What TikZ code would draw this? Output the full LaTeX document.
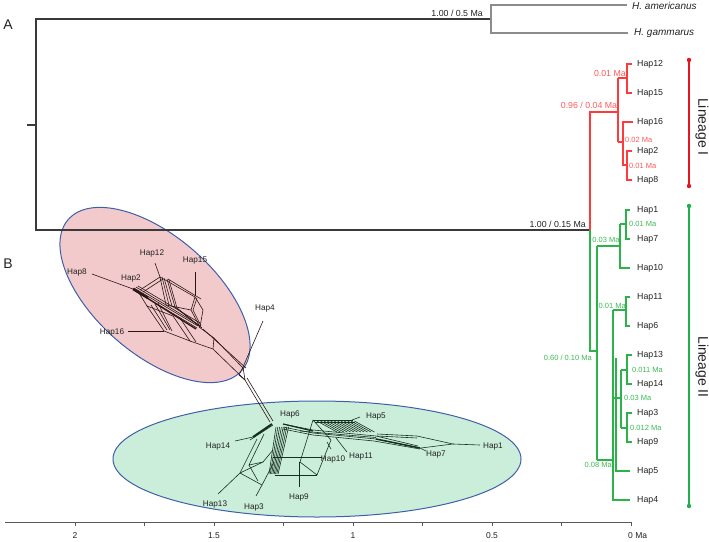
\documentclass[tikz,border=0pt]{standalone}
\usepackage{fontspec}
\setmainfont{Liberation Sans}
\definecolor{treeblack}{HTML}{3A3A3A}
\definecolor{treegray}{HTML}{8C8C8C}
\definecolor{lred}{HTML}{FF3A3A}
\definecolor{lredtxt}{HTML}{FF5A5A}
\definecolor{lgreen}{HTML}{2BB34A}
\definecolor{lgreentxt}{HTML}{3DBA57}
\definecolor{barred}{HTML}{E8141E}
\definecolor{bargreen}{HTML}{1FAF4B}
\definecolor{pinkfill}{HTML}{F2CACB}
\definecolor{mintfill}{HTML}{CBEEDA}
\definecolor{ellblue}{HTML}{3F5FA8}
\definecolor{netred}{HTML}{2B1616}
\definecolor{netgreen}{HTML}{16301E}
\definecolor{txt}{HTML}{222222}
\begin{document}
\begin{tikzpicture}[x=1pt,y=-1pt,
  tb/.style={draw=treeblack,line width=1.1pt},
  tg/.style={draw=treegray,line width=1.1pt},
  rb/.style={draw=lred,line width=1.1pt},
  gb/.style={draw=lgreen,line width=1.1pt},
  tip/.style={font=\fontsize{8.8}{10}\selectfont,anchor=west,inner sep=0pt,text=txt},
  sp/.style={font=\fontsize{10}{12}\selectfont\itshape,anchor=west,inner sep=0pt,text=txt},
  bigl/.style={font=\fontsize{8.8}{10}\selectfont,inner sep=0pt},
  smll/.style={font=\fontsize{7.5}{9}\selectfont,inner sep=0pt},
  hl/.style={font=\fontsize{8.2}{10}\selectfont,inner sep=0pt,text=txt},
  net/.style={line width=0.6pt},
  axl/.style={font=\fontsize{8.5}{10}\selectfont,inner sep=0pt,text=txt}]
\useasboundingbox (0,0) rectangle (709,541);

% ellipses
\draw[fill=pinkfill,draw=ellblue,line width=1pt,rotate around={-41:(155,295)}] (155,295) ellipse [x radius=115, y radius=59];
\draw[fill=mintfill,draw=ellblue,line width=1pt] (317,459) ellipse [x radius=204, y radius=58];

% panel letters
\node[font=\fontsize{14}{16}\selectfont,text=txt] (A) at (8,25) {A};
\node[font=\fontsize{14}{16}\selectfont,text=txt] (B) at (8,264) {B};

% ---- tree: root and outgroup
\draw[tb] (27,125) -- (36,125);
\draw[tb] (491,19) -- (36,19) -- (36,230) -- (590,230);
\draw[tg] (627,5) -- (491,5) -- (491,33) -- (628,33);
\node[bigl,anchor=east,text=txt] (l1) at (483,13) {1.00 / 0.5 Ma};
\node[sp] (ham) at (632,6) {H. americanus};
\node[sp] (hga) at (634,33) {H. gammarus};
\node[bigl,anchor=east,text=txt] (l2) at (586,224) {1.00 / 0.15 Ma};

% ---- lineage I (red)
\draw[rb] (590,230) -- (590,112) -- (618,112);
\draw[rb] (618,78) -- (618,142);
\draw[rb] (618,78) -- (627,78);
\draw[rb] (632,64) -- (627,64) -- (627,93) -- (632,93);
\draw[rb] (618,142) -- (623,142);
\draw[rb] (633,122) -- (623,122) -- (623,165) -- (627,165);
\draw[rb] (632,151) -- (627,151) -- (627,180) -- (632,180);
\node[bigl,text=lredtxt] (r1) at (589,105) {0.96 / 0.04 Ma};
\node[bigl,anchor=east,text=lredtxt] (r2) at (626,73) {0.01 Ma};
\node[smll,anchor=west,text=lredtxt] (r3) at (625,140) {0.02 Ma};
\node[smll,anchor=west,text=lredtxt] (r4) at (629,166) {0.01 Ma};
\node[tip] (h12) at (637,64) {Hap12};
\node[tip] (h15) at (637,93) {Hap15};
\node[tip] (h16) at (637,122) {Hap16};
\node[tip] (h2) at (637,151) {Hap2};
\node[tip] (h8) at (637,180) {Hap8};

% ---- lineage II (green)
\draw[gb] (590,230) -- (590,351) -- (597,351);
\draw[gb] (597,246) -- (597,460);
\draw[gb] (597,246) -- (620,246);
\draw[gb] (620,224) -- (620,268) -- (630,268);
\draw[gb] (620,224) -- (626,224);
\draw[gb] (630,210) -- (626,210) -- (626,239) -- (630,239);
\draw[gb] (597,460) -- (613,460);
\draw[gb] (613,310) -- (613,500) -- (630,500);
\draw[gb] (613,310) -- (626,310);
\draw[gb] (630,297) -- (626,297) -- (626,326) -- (630,326);
\draw[gb] (616,358) -- (616,471) -- (630,471);
\draw[gb] (613,398) -- (621,398);
\draw[gb] (621,370) -- (621,428);
\draw[gb] (621,370) -- (627,370);
\draw[gb] (632,355) -- (627,355) -- (627,384) -- (632,384);
\draw[gb] (621,428) -- (627,428);
\draw[gb] (632,413) -- (627,413) -- (627,442) -- (632,442);
\node[smll,text=lgreentxt] (g1) at (606,240) {0.03 Ma};
\node[smll,anchor=west,text=lgreentxt] (g2) at (629,224) {0.01 Ma};
\node[smll,anchor=east,text=lgreentxt] (g3) at (626,306) {0.01 Ma};
\node[smll,anchor=east,text=lgreentxt] (g4) at (592,358) {0.60 / 0.10 Ma};
\node[smll,anchor=west,text=lgreentxt] (g5) at (632,370) {0.011 Ma};
\node[smll,anchor=west,text=lgreentxt] (g6) at (624,398) {0.03 Ma};
\node[smll,anchor=west,text=lgreentxt] (g7) at (630,428) {0.012 Ma};
\node[smll,anchor=east,text=lgreentxt] (g8) at (612,465) {0.08 Ma};
\node[tip] (t1) at (637,210) {Hap1};
\node[tip] (t7) at (637,239) {Hap7};
\node[tip] (t10) at (637,268) {Hap10};
\node[tip] (t11) at (637,297) {Hap11};
\node[tip] (t6) at (637,326) {Hap6};
\node[tip] (t13) at (637,355) {Hap13};
\node[tip] (t14) at (637,384) {Hap14};
\node[tip] (t3) at (637,413) {Hap3};
\node[tip] (t9) at (637,442) {Hap9};
\node[tip] (t5) at (637,471) {Hap5};
\node[tip] (t4) at (637,500) {Hap4};

% lineage bars
\draw[barred,line width=1.3pt] (689,60) -- (689,186);
\fill[barred] (689,60) circle (2.2) (689,186) circle (2.2);
\draw[bargreen,line width=1.3pt] (689,206) -- (689,506);
\fill[bargreen] (689,206) circle (2.2) (689,506) circle (2.2);
\node[rotate=-90,font=\fontsize{14}{16}\selectfont,text=txt] (LI) at (702,127) {Lineage I};
\node[rotate=-90,font=\fontsize{14}{16}\selectfont,text=txt] (LII) at (702,367) {Lineage II};

% axis
\draw[draw=black!65,line width=0.7pt] (5,522) -- (631,522);
\foreach \k in {0,...,8} \draw[draw=black!65,line width=0.7pt] (631-69.5*\k,522) -- (631-69.5*\k,526);
\node[axl] (a2) at (75,536) {2};
\node[axl] (a15) at (214,536) {1.5};
\node[axl] (a1) at (353,536) {1};
\node[axl] (a05) at (492,536) {0.5};
\node[axl,anchor=west] (a0) at (628,536) {0 Ma};

% ---- network, red cluster
\begin{scope}[net,draw=netred]
\draw[line width=2.4pt] (133,289) -- (148,298);
\draw (134,288) -- (198,326);
\draw (134,290) -- (197,328);
\draw[line width=1.3pt] (136,291) -- (196,329);
\draw (136,287) -- (199,325);
\draw (138,286) -- (200,323);
\draw (140,290) -- (160,277);
\draw (143,292) -- (163,279);
\draw (160,277) -- (166,305);
\draw (162,277) -- (169,305);
\draw (164,278) -- (172,306);
\draw (167,279) -- (175,307);
\draw (169,280) -- (177,308);
\draw (160,277) -- (195,297);
\draw (168,279) -- (201,299);
\draw (195,297) -- (191,310) -- (200,327) -- (203,310) -- cycle;
\draw (197,298) -- (193,310) -- (201,326);
\draw (166,305) -- (191,310);
\draw (175,307) -- (200,327);
\draw (177,308) -- (202,328);
\draw (139,293) -- (147,306);
\draw (147,306) -- (164,331) -- (190,341) -- (173,316) -- cycle;
\draw (151,305) -- (167,330);
\draw (155,304) -- (170,330);
\draw (158,303) -- (172,331);
\draw (180,318) -- (196,342);
\draw (199,327) -- (214,338) -- (243,368);
\draw (190,341) -- (213,349) -- (245,380);
\draw (203,329) -- (246,368);
\draw (214,338) -- (213,349);
\draw (243,367) -- (239,375) -- (245,380) -- cycle;
\draw (245,380) -- (270,422);
\draw (247,378) -- (273,421);
\draw (263,321) -- (243,367);
\draw (92,274) -- (133,289);
\draw (155,263) -- (160,277);
\draw (195,272) -- (195,296);
\draw (128,331) -- (164,331);
\end{scope}
\node[hl] (n8) at (77,272) {Hap8};
\node[hl] (n2) at (131,278) {Hap2};
\node[hl] (n12) at (152,253) {Hap12};
\node[hl] (n15) at (195,261) {Hap15};
\node[hl] (n16) at (112,332) {Hap16};
\node[hl] (n4) at (265,309) {Hap4};

% ---- network, green cluster
\begin{scope}[net,draw=netgreen]
\draw[line width=2pt] (253,437) -- (272,424);
\draw (250,440) -- (273,425);
\draw (235,441) -- (253,437);
\foreach \i in {0,...,7} \draw (276+1.8*\i,427) -- (269+1.3*\i,474);
\draw (257,439) -- (240,473) -- (262,485) -- (274,462);
\draw (264,434) -- (249,465) -- (263,462) -- (273,450);
\draw (240,473) -- (263,462);
\draw (249,465) -- (258,481);
\draw (273,457) -- (322,457);
\draw (275,475) -- (317,475);
\draw (313,420) -- (300,462) -- (317,475) -- (331,440) -- cycle;
\draw (299,462) -- (299,487);
\draw[line width=1.2pt] (283,424) -- (313,431);
\draw (283,424) -- (313,430) -- (376,436) -- (418,446);
\draw (283,427) -- (313,433) -- (376,439) -- (420,448);
\draw (283,429) -- (313,435) -- (374,441) -- (420,449);
\draw (300,431) -- (376,437.5);
\draw[line width=1.5pt] (376,439) -- (420,448);
\draw (313,420) -- (353,420);
\draw (315,422) -- (355,422);
\foreach \i in {0,...,11} \draw (317+3.4*\i,421) -- (337+3.4*\i,432);
\draw (352,420) -- (360,417);
\draw (377,434) -- (417,436) -- (453,444) -- (421,448);
\draw (377,436) -- (417,438);
\draw (453,444) -- (480,445);
\draw (420,448) -- (426,451);
\draw (327,442) -- (331,449);
\draw (336,438) -- (347,452);
\draw (218,494) -- (240,473);
\draw (256,496) -- (262,485);
\end{scope}
\node[hl] (m6) at (290,414) {Hap6};
\node[hl] (m5) at (376,417) {Hap5};
\node[hl] (m14) at (218,447) {Hap14};
\node[hl] (m10) at (333,459) {Hap10};
\node[hl] (m11) at (361,457) {Hap11};
\node[hl] (m7) at (436,455) {Hap7};
\node[hl] (m1) at (493,447) {Hap1};
\node[hl] (m13) at (215,504) {Hap13};
\node[hl] (m3) at (254,507) {Hap3};
\node[hl] (m9) at (299,497) {Hap9};
\end{tikzpicture}
\end{document}
